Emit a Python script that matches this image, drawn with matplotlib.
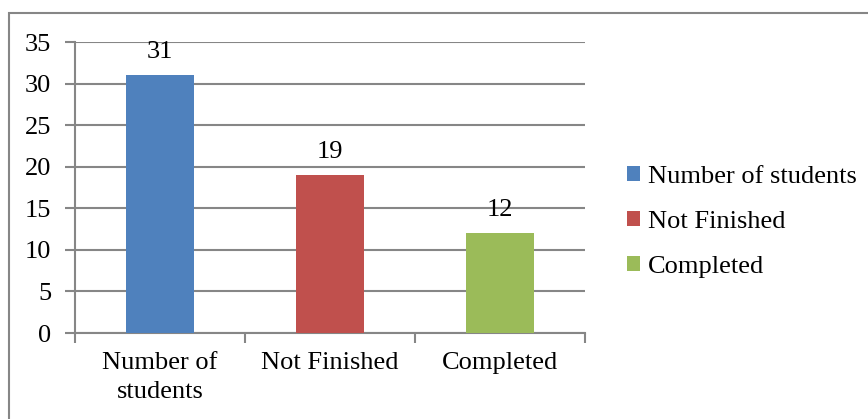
import matplotlib
matplotlib.use("Agg")
import matplotlib.pyplot as plt
from matplotlib.patches import Patch, Rectangle

categories = ["Number of\nstudents", "Not Finished", "Completed"]
legend_labels = ["Number of students", "Not Finished", "Completed"]
values = [31, 19, 12]
colors = ["#4F81BD", "#C0504D", "#9BBB59"]
yticks = [0, 5, 10, 15, 20, 25, 30, 35]

plt.rcParams['font.family'] = ['Liberation Serif', 'DejaVu Serif']
W, H = 868, 419
fig = plt.figure(figsize=(W/100, H/100), dpi=100)
grey = "#868686"
fs = 19

fig.patches.append(Rectangle((9/W, -0.1), 1.2, (H-13)/H + 0.1, transform=fig.transFigure,
                             fill=False, edgecolor=grey, linewidth=1.5))

ax = fig.add_axes([75/W, 86/H, 510/W, 291/H])
x = list(range(len(values)))
bars = ax.bar(x, values, width=0.4, color=colors, zorder=3)
ax.set_xlim(-0.5, 2.5)
ax.set_ylim(0, 35)
ax.set_yticks(yticks)
ax.set_yticklabels([str(t) for t in yticks], fontsize=fs)
ax.set_xticks([-0.5, 0.5, 1.5, 2.5], minor=False)
ax.set_xticklabels([])
ax.set_xticks(x, minor=True)
ax.set_xticklabels(categories, minor=True, fontsize=fs, linespacing=1.4)
ax.tick_params(axis='x', which='minor', length=0, pad=14)
ax.tick_params(axis='x', which='major', length=7, color=grey, width=1.5)
ax.tick_params(axis='y', length=7, color=grey, width=1.5, pad=10)
ax.yaxis.grid(True, color=grey, linewidth=1.5, zorder=0)
for s in ['top', 'right']:
    ax.spines[s].set_visible(False)
for s in ['left', 'bottom']:
    ax.spines[s].set_color(grey)
    ax.spines[s].set_linewidth(1.5)

for xi, v in zip(x, values):
    ax.annotate(str(v), (xi, v), xytext=(0, 9), textcoords='offset points',
                ha='center', va='bottom', fontsize=fs)

handles = [Patch(facecolor=c) for c in colors]
fig.legend(handles, legend_labels, loc='center left', bbox_to_anchor=(627/W, 1 - 222/H),
           frameon=False, fontsize=fs, handlelength=0.5, handleheight=0.5,
           handletextpad=0.3, labelspacing=0.88, borderaxespad=0, borderpad=0)

fig.savefig("out.png", dpi=100, facecolor="white")
